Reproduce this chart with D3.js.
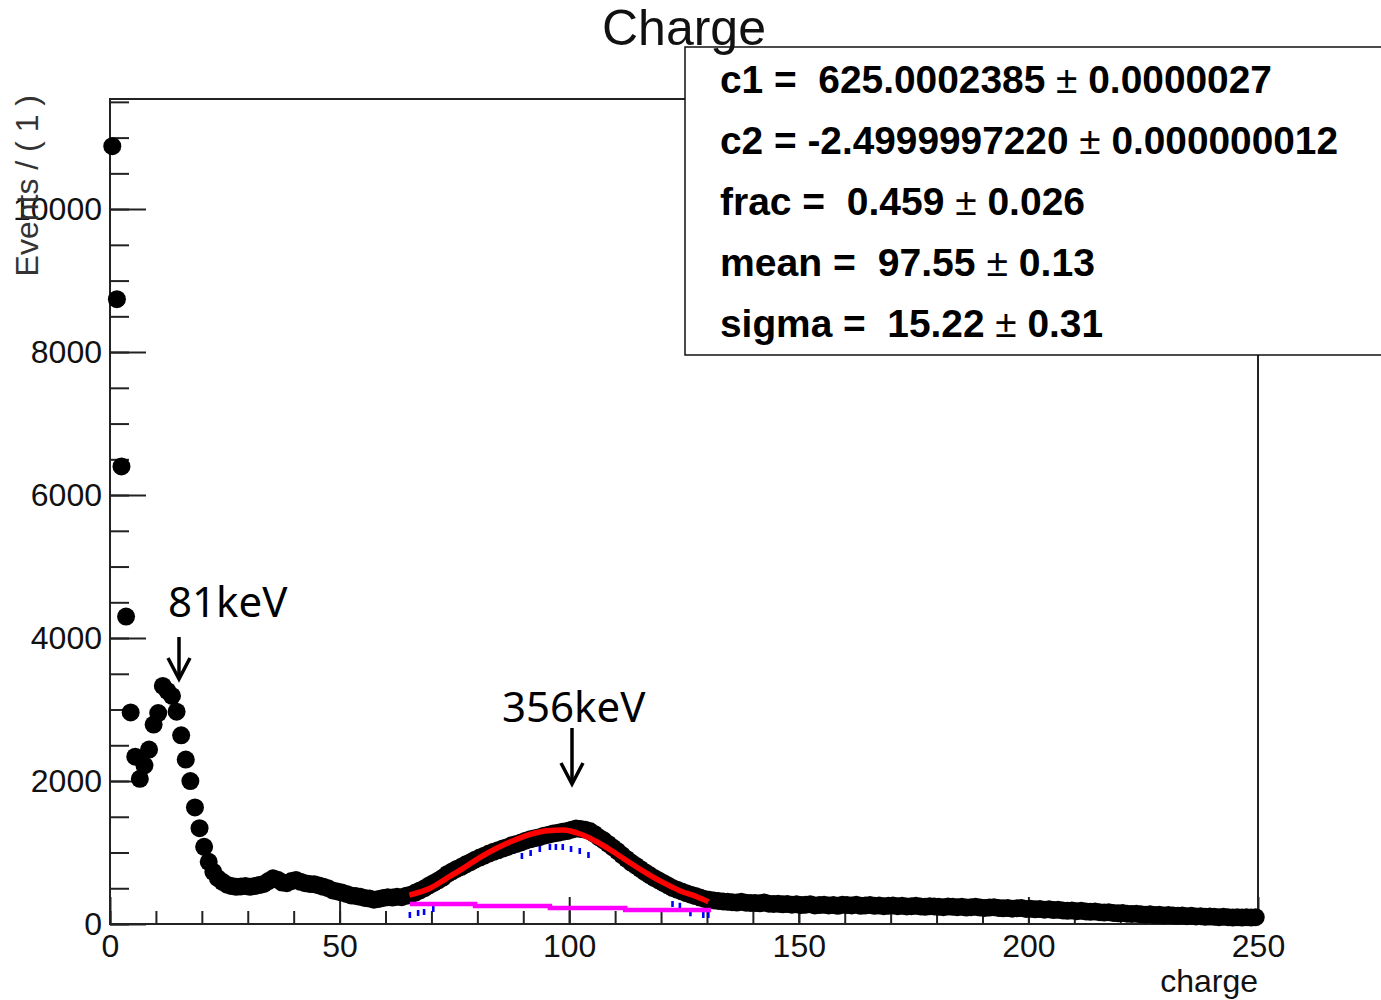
<!DOCTYPE html>
<html>
<head>
<meta charset="utf-8">
<script src="https://cdn.jsdelivr.net/npm/d3@7"></script>
<style>
body { margin: 0; background: #fff; }
svg { display: block; font-family: "Liberation Sans", Arial, sans-serif; }
</style>
</head>
<body>
<svg width="1381" height="1000"></svg>
<script>
// events per bin (bin width 1), bins 0..249
const counts = [
  10880, 8740, 6400, 4300, 2960, 2340, 2030, 2220, 2440, 2790,
  2950, 3330, 3260, 3190, 2970, 2640, 2300, 2000, 1630, 1340,
  1080, 870, 730, 640, 590, 550, 530, 520, 525, 530,
  520, 530, 545, 560, 600, 640, 620, 580, 570, 600,
  615, 590, 570, 560, 555, 540, 520, 500, 470, 455,
  440, 420, 400, 392, 380, 365, 355, 340, 350, 365,
  375, 370, 380, 375, 395, 410, 440, 470, 500, 540,
  575, 610, 650, 700, 735, 770, 800, 835, 865, 900,
  930, 955, 985, 1010, 1030, 1055, 1075, 1100, 1120, 1140,
  1165, 1185, 1200, 1215, 1235, 1250, 1265, 1275, 1290, 1300,
  1320, 1335, 1330, 1320, 1300, 1260, 1210, 1170, 1120, 1070,
  1020, 965, 910, 860, 815, 770, 725, 685, 645, 610,
  575, 540, 505, 480, 455, 430, 410, 390, 370, 350,
  340, 330, 322, 315, 310, 305, 300, 310, 298, 295,
  295, 290, 300, 285, 280, 285, 275, 280, 270, 275,
  265, 270, 275, 260, 265, 270, 260, 265, 255, 270,
  265, 260, 270, 255, 260, 265, 255, 260, 250, 255,
  260, 250, 255, 245, 250, 255, 245, 240, 250, 245,
  240, 235, 245, 240, 235, 240, 230, 235, 240, 230,
  225, 230, 235, 225, 220, 225, 215, 220, 225, 210,
  215, 205, 210, 200, 205, 195, 200, 190, 185, 190,
  180, 185, 175, 170, 175, 165, 160, 165, 155, 150,
  155, 145, 140, 145, 135, 130, 135, 125, 130, 120,
  125, 120, 115, 120, 110, 115, 105, 110, 100, 105,
  100, 95, 100, 95, 90, 95, 90, 95, 90, 95
];

// total fit curve (red)
const fitX = [65.2, 69.7, 73.3, 76.9, 80.6, 84.2, 87.8, 91.5, 95.1, 98.7, 102.4, 106, 109.6, 113.2, 116.9, 120.5, 124.1, 127.8, 130.3];
const fitY = [405, 499, 639, 779, 933, 1059, 1165, 1254, 1305, 1315, 1259, 1151, 1011, 857, 709, 578, 466, 382, 312];

// background component (magenta, stepped)
const bkgX = [65.3, 79.5, 95.8, 112.2, 130.9];
const bkgY = [280, 252, 224, 196, 196];

// signal component (blue dashes that show)
const sigX = [65.3, 67.1, 68.4, 70.4, 89.7, 91.6, 93.6, 95.8, 97.1, 98.6, 100.4, 102.3, 104.2, 122.5, 124.1, 126.4, 129.2, 130.3];
const sigY = [126, 154, 168, 210, 951, 993, 1049, 1077, 1077, 1077, 1049, 1021, 965, 280, 255, 150, 126, 126];

const xTicks = [0, 50, 100, 150, 200, 250];
const yTicks = [0, 2000, 4000, 6000, 8000, 10000];

// fit parameters for the stat box
const parNames = ["c1", "c2", "frac", "mean", "sigma"];
const parValues = ["625.0002385", "-2.4999997220", "0.459", "97.55", "15.22"];
const parErrors = ["0.0000027", "0.000000012", "0.026", "0.13", "0.31"];
const parWidths = [552, 618, 365, 375, 383];

const svg = d3.select("svg");

const x = d3.scaleLinear().domain([0, 250]).range([110, 1258]);
const y = d3.scaleLinear().domain([0, 11540]).range([924, 99]);

// frame
svg.append("rect")
    .attr("x", x(0)).attr("y", y(11540))
    .attr("width", x(250) - x(0)).attr("height", y(0) - y(11540))
    .attr("fill", "none").attr("stroke", "#222").attr("stroke-width", 2);

// x axis: minor ticks every 10, major every 50
const gx = svg.append("g").attr("transform", `translate(0,${y(0)})`);
gx.append("g")
    .call(d3.axisBottom(x).tickValues(d3.range(0, 251, 10)).tickSize(-13).tickSizeOuter(0).tickFormat(""))
    .call(g => g.select(".domain").remove());
gx.append("g")
    .call(d3.axisBottom(x).tickValues(xTicks).tickSize(-27).tickSizeOuter(0).tickPadding(10))
    .call(g => g.select(".domain").remove());

// y axis: minor ticks every 500, major every 2000
const gy = svg.append("g").attr("transform", `translate(${x(0)},0)`);
gy.append("g")
    .call(d3.axisLeft(y).tickValues(d3.range(0, 11501, 500)).tickSize(-19).tickSizeOuter(0).tickFormat(""))
    .call(g => g.select(".domain").remove());
gy.append("g")
    .call(d3.axisLeft(y).tickValues(yTicks).tickSize(-36).tickSizeOuter(0).tickPadding(8).tickFormat(d3.format("d")))
    .call(g => g.select(".domain").remove());

svg.selectAll(".tick line").attr("stroke", "#222").attr("stroke-width", 2);
svg.selectAll(".tick text")
    .attr("font-family", "Liberation Sans, Arial, sans-serif")
    .attr("font-size", 32).attr("fill", "#111");

// axis titles
svg.append("text")
    .attr("x", x(250)).attr("y", 992)
    .attr("text-anchor", "end").attr("font-size", 32).attr("fill", "#111")
    .text("charge");
svg.append("text")
    .attr("transform", "translate(38,95) rotate(-90)")
    .attr("text-anchor", "end").attr("font-size", 32).attr("fill", "#333")
    .text("Events / ( 1 )");

// signal component, dashed blue
svg.append("g").selectAll("rect")
    .data(sigX.map((d, i) => [d, sigY[i]]))
    .enter().append("rect")
    .attr("x", d => x(d[0]) - 1.3).attr("y", d => y(d[1]) - 3)
    .attr("width", 2.6).attr("height", 6)
    .attr("fill", "#0000ff");

// data points
svg.append("g").selectAll("circle")
    .data(counts)
    .enter().append("circle")
    .attr("cx", (d, i) => x(i + 0.5))
    .attr("cy", d => y(d))
    .attr("r", 9)
    .attr("fill", "#000");

// total fit
svg.append("path")
    .datum(fitX.map((d, i) => [d, fitY[i]]))
    .attr("fill", "none").attr("stroke", "#ff0000").attr("stroke-width", 5.5)
    .attr("d", d3.line().x(d => x(d[0])).y(d => y(d[1])).curve(d3.curveMonotoneX));

// background
svg.append("path")
    .datum(bkgX.map((d, i) => [d, bkgY[i]]))
    .attr("fill", "none").attr("stroke", "#ff00ff").attr("stroke-width", 4.5)
    .attr("d", d3.line().x(d => x(d[0])).y(d => y(d[1])).curve(d3.curveStepAfter));

// stat box
svg.append("rect")
    .attr("x", 685).attr("y", 47).attr("width", 720).attr("height", 308)
    .attr("fill", "#fff").attr("stroke", "#111").attr("stroke-width", 1.5);

const stat = svg.append("g").selectAll("text")
    .data(parNames)
    .enter().append("text")
    .attr("x", 720)
    .attr("y", (d, i) => 93 + i * 61)
    .attr("font-size", 39).attr("font-weight", "bold").attr("fill", "#000")
    .attr("textLength", (d, i) => parWidths[i])
    .attr("lengthAdjust", "spacingAndGlyphs")
    .style("white-space", "pre");
stat.append("tspan")
    .text((d, i) => `${d} = ${parValues[i].startsWith("-") ? "" : " "}${parValues[i]} `);
stat.append("tspan").attr("font-weight", "normal").text("\u00b1");
stat.append("tspan").text((d, i) => ` ${parErrors[i]}`);

// title
svg.append("text")
    .attr("x", 684).attr("y", 45)
    .attr("text-anchor", "middle").attr("font-size", 50).attr("fill", "#111")
    .text("Charge");

// annotations
const notes = [
  { label: "81keV", tx: 168, ty: 617, ax: 179, y0: 637, y1: 679 },
  { label: "356keV", tx: 502, ty: 722, ax: 572, y0: 728, y1: 784 }
];
const note = svg.append("g").selectAll("g").data(notes).enter().append("g");
note.append("text")
    .attr("x", d => d.tx).attr("y", d => d.ty)
    .attr("font-family", "Noto Sans, Open Sans, sans-serif")
    .attr("font-size", 42).attr("fill", "#000")
    .text(d => d.label);
note.append("line")
    .attr("x1", d => d.ax).attr("x2", d => d.ax)
    .attr("y1", d => d.y0).attr("y2", d => d.y1 - 2)
    .attr("stroke", "#000").attr("stroke-width", 3.5);
note.append("path")
    .attr("d", d => `M${d.ax - 11},${d.y1 - 21}L${d.ax},${d.y1}L${d.ax + 11},${d.y1 - 21}`)
    .attr("fill", "none").attr("stroke", "#000").attr("stroke-width", 3.5);
</script>
</body>
</html>
